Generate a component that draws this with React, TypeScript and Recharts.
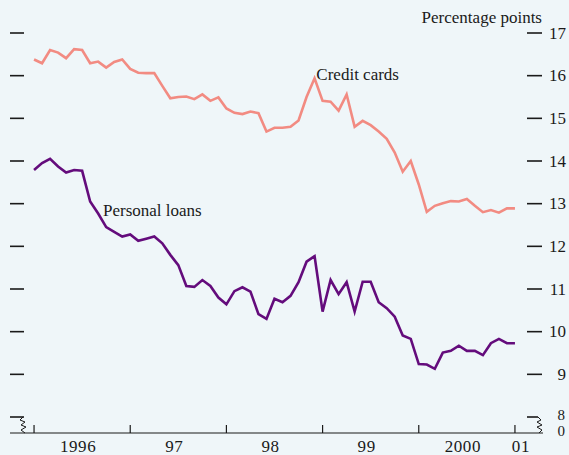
import { LineChart, Line, XAxis, YAxis, ReferenceDot } from 'recharts';

const creditCards = [
  16.38, 16.29, 16.6, 16.54, 16.41, 16.62, 16.6, 16.29, 16.33, 16.19, 16.32, 16.38,
  16.16, 16.07, 16.06, 16.06, 15.76, 15.47, 15.5, 15.51, 15.45, 15.56, 15.41, 15.49,
  15.23, 15.13, 15.1, 15.16, 15.12, 14.69, 14.78, 14.78, 14.8, 14.95, 15.5, 15.94,
  15.41, 15.39, 15.18, 15.56, 14.8, 14.94, 14.84, 14.69, 14.52, 14.2, 13.75, 14.0,
  13.45, 12.81, 12.95, 13.01, 13.06, 13.05, 13.11, 12.95, 12.8, 12.85, 12.79, 12.89,
  12.89,
];

const personalLoans = [
  13.79, 13.95, 14.05, 13.87, 13.73, 13.79, 13.77, 13.05, 12.77, 12.45, 12.34, 12.23,
  12.28, 12.13, 12.18, 12.23, 12.07, 11.8, 11.56, 11.07, 11.05, 11.21, 11.07, 10.8,
  10.64, 10.95, 11.04, 10.94, 10.41, 10.3, 10.77, 10.69, 10.84, 11.16, 11.64, 11.77,
  10.47, 11.21, 10.88, 11.16, 10.47, 11.17, 11.17, 10.69, 10.55, 10.35, 9.91, 9.83,
  9.24, 9.23, 9.13, 9.51, 9.55, 9.67, 9.55, 9.55, 9.45, 9.73, 9.83, 9.73,
  9.73,
];

const yearLabels = ['1996', '97', '98', '99', '2000', '01'];
const yTicks = [8, 9, 10, 11, 12, 13, 14, 15, 16, 17];

// month index, 0 = Jan 1996
const data = creditCards.map((c, i) => ({ m: i, credit: c, personal: personalLoans[i] }));

const xTicks: number[] = [];
for (let i = 0; i <= 60; i += 6) xTicks.push(i);

const FONT = '"Liberation Serif", "Times New Roman", serif';
const INK = '#1a1a1a';
const BG = '#eff6f9';
const MARGIN = { top: 25, right: 0, bottom: 0, left: 10 };

const XTick = (props: any) => {
  const { x, y, payload } = props;
  const v = payload.value as number;
  const isYear = v % 12 === 0;
  const idx = Math.floor(v / 12);
  return (
    <g>
      {isYear && <line x1={x} x2={x} y1={y} y2={y - 8} stroke={INK} strokeWidth={1.2} />}
      {!isYear && (
        <text x={x - 4} y={y + 19} textAnchor="middle" fontFamily={FONT} fontSize={17} fill={INK} letterSpacing={0.6}>
          {yearLabels[idx]}
        </text>
      )}
      {v === 60 && (
        <text x={x + 6} y={y + 19} textAnchor="middle" fontFamily={FONT} fontSize={17} fill={INK} letterSpacing={0.6}>
          {yearLabels[5]}
        </text>
      )}
    </g>
  );
};

// draws both the left and right dashes, the right labels and the axis breaks
const YTick = (props: any) => {
  const { x, y, payload } = props;
  const v = payload.value as number;
  const lx = MARGIN.left;
  return (
    <g>
      <line x1={lx} x2={lx + 14} y1={y} y2={y} stroke={INK} strokeWidth={1.6} />
      <line x1={x - 16} x2={v === 8 ? x - 5 : x - 1} y1={y} y2={y} stroke={INK} strokeWidth={1.6} />
      {v !== 8 && (
        <text x={x + 23} y={y + 5.5} textAnchor="end" fontFamily={FONT} fontSize={17} fill={INK}>
          {v}
        </text>
      )}
      {v === 8 && (
        <>
          <polyline
            points={`${lx + 13},${y} ${lx + 10},${y + 3} ${lx + 15},${y + 5} ${lx + 11},${y + 8} ${lx + 16},${y + 10} ${lx + 11},${y + 13} ${lx + 15},${y + 16}`}
            fill="none"
            stroke={INK}
            strokeWidth={1}
          />
          <polyline
            points={`${x - 5},${y} ${x - 2},${y + 3} ${x - 6},${y + 5} ${x - 1},${y + 8} ${x - 6},${y + 10} ${x - 1},${y + 13} ${x - 4},${y + 16}`}
            fill="none"
            stroke={INK}
            strokeWidth={1}
          />
          <text x={x + 22} y={y + 3} textAnchor="end" fontFamily={FONT} fontSize={15} fill={INK}>
            {v}
          </text>
          <text x={x + 22} y={y + 19} textAnchor="end" fontFamily={FONT} fontSize={15} fill={INK}>
            0
          </text>
        </>
      )}
      {v === 17 && (
        <text x={x - 1} y={y - 10} textAnchor="end" fontFamily={FONT} fontSize={17} fill={INK}>
          Percentage points
        </text>
      )}
    </g>
  );
};

export default function App() {
  return (
    <div style={{ position: 'absolute', left: 0, top: 0, width: 569, height: 455, background: BG }}>
      <LineChart width={569} height={455} data={data} margin={MARGIN}>
        <XAxis
          dataKey="m"
          type="number"
          domain={[-3, 63.5]}
          ticks={xTicks}
          interval={0}
          height={22}
          tickSize={0}
          tickMargin={0}
          tickLine={false}
          axisLine={{ stroke: INK, strokeWidth: 1.2 }}
          tick={<XTick />}
          allowDataOverflow
        />
        <YAxis
          yAxisId="right"
          orientation="right"
          width={26}
          domain={[7.625, 17.1875]}
          ticks={yTicks}
          interval={0}
          tickSize={0}
          tickMargin={0}
          tickLine={false}
          axisLine={false}
          tick={<YTick />}
          allowDataOverflow
        />
        <Line
          yAxisId="right"
          dataKey="credit"
          stroke="#f28b82"
          strokeWidth={2.6}
          dot={false}
          isAnimationActive={false}
        />
        <Line
          yAxisId="right"
          dataKey="personal"
          stroke="#640c7c"
          strokeWidth={2.6}
          dot={false}
          isAnimationActive={false}
        />
        <ReferenceDot
          yAxisId="right"
          x={34.6}
          y={16.04}
          r={0}
          fill="none"
          stroke="none"
          label={{ value: 'Credit cards', position: 'right', fontFamily: FONT, fontSize: 17, fill: INK }}
        />
        <ReferenceDot
          yAxisId="right"
          x={7.98}
          y={12.85}
          r={0}
          fill="none"
          stroke="none"
          label={{ value: 'Personal loans', position: 'right', fontFamily: FONT, fontSize: 17, fill: INK }}
        />
      </LineChart>
    </div>
  );
}
